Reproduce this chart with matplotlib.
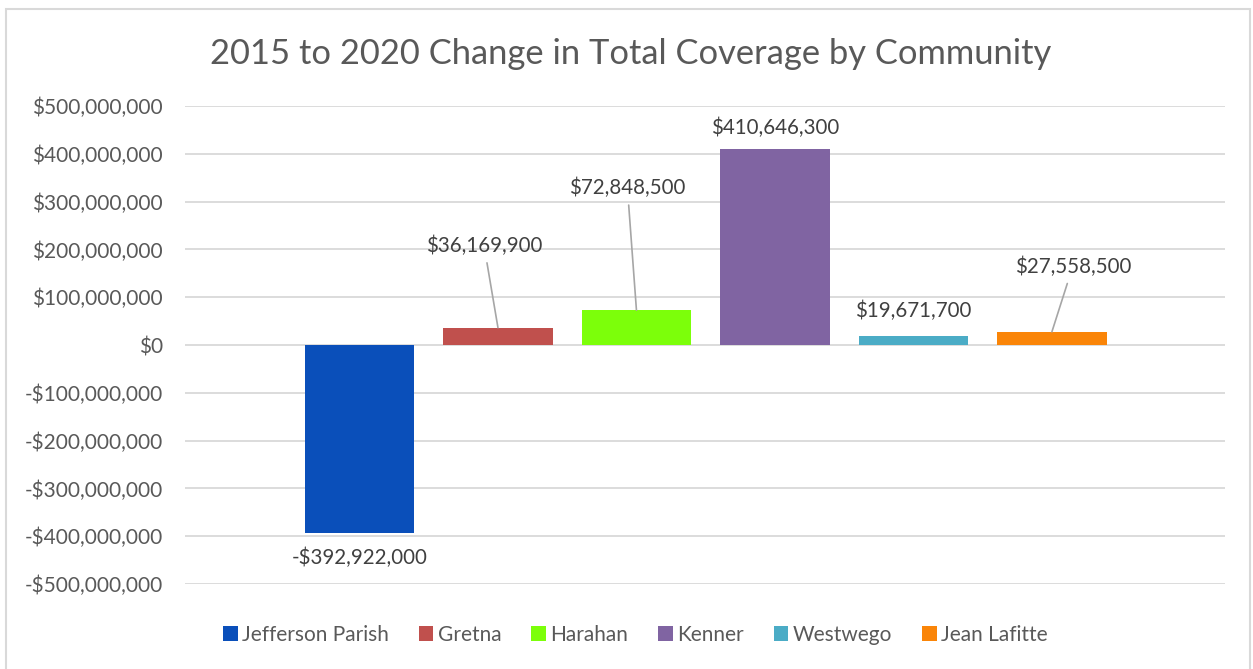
import matplotlib.pyplot as plt
from matplotlib.patches import Rectangle
from matplotlib.ticker import FuncFormatter

plt.rcParams['font.family'] = ['Lato', 'DejaVu Sans']

communities = ["Jefferson Parish", "Gretna", "Harahan", "Kenner", "Westwego", "Jean Lafitte"]
change = [-392922000, 36169900, 72848500, 410646300, 19671700, 27558500]
colors = ["#0A4FBA", "#C0504D", "#7CFF0A", "#8064A2", "#4BACC6", "#FA8508"]
yticks = [-500e6, -400e6, -300e6, -200e6, -100e6, 0, 100e6, 200e6, 300e6, 400e6, 500e6]
# offsets de las etiquetas (puntos) y si llevan linea guia
label_offsets = [(0, -18), (-10, 59), (-6.5, 88), (0, 15), (0, 18), (15, 47)]
leader = [False, True, True, False, False, True]


def money(v, pos=None):
    if v < 0:
        return f"-${-v:,.0f}"
    return f"${v:,.0f}"


fig = plt.figure(figsize=(12.53, 6.69), dpi=100)
ax = fig.add_axes([185 / 1253, 1 - 584 / 669, 1040 / 1253, 478 / 669])

bars = ax.bar(range(len(communities)), change, width=0.79, color=colors,
              label=communities, zorder=3)

ax.set_xlim(-1.26, 6.25)
ax.set_ylim(-500e6, 500e6)
ax.set_yticks(yticks)
ax.yaxis.set_major_formatter(FuncFormatter(money))
ax.tick_params(axis="y", length=0, pad=16, labelsize=15, labelcolor="#595959")
ax.set_xticks([])
for s in ax.spines.values():
    s.set_visible(False)
ax.grid(axis="y", color="#d9d9d9", linewidth=1.3, zorder=0)

for i, v in enumerate(change):
    dx, dy = label_offsets[i]
    props = dict(arrowstyle="-", color="#a6a6a6", linewidth=1.2, shrinkA=3, shrinkB=0) if leader[i] else None
    ax.annotate(money(v), xy=(i, v), xytext=(dx, dy), textcoords="offset points",
                ha="center", va="center", fontsize=14.8, color="#404040",
                arrowprops=props, zorder=4)

fig.text(0.503, 0.92, "2015 to 2020 Change in Total Coverage by Community",
         ha="center", va="center", fontsize=24.8, color="#595959")

fig.legend(handles=list(bars), labels=communities, loc="center", ncol=6,
           bbox_to_anchor=(0.507, 0.051), frameon=False, fontsize=15,
           handlelength=0.7, handleheight=0.7, handletextpad=0.2,
           columnspacing=1.45, labelcolor="#595959")

fig.patches.append(Rectangle((6 / 1253, -0.01), 1244 / 1253, 1 - 9 / 669 + 0.01,
                             transform=fig.transFigure, fill=False,
                             edgecolor="#d9d9d9", linewidth=1.5))

fig.savefig("out.png", dpi=100)
